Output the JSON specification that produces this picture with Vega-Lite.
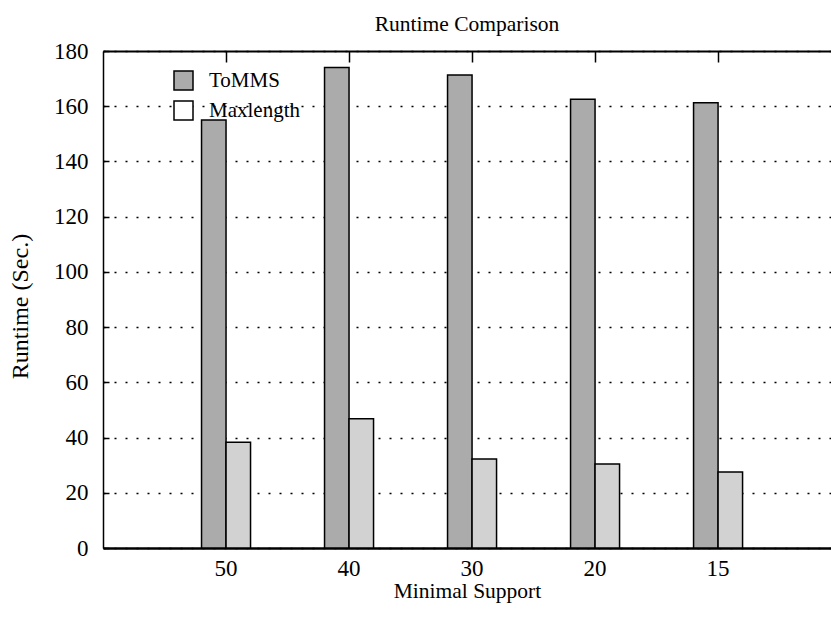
{
  "$schema": "https://vega.github.io/schema/vega-lite/v6.json",
  "width": 728,
  "height": 497,
  "autosize": {"type": "none"},
  "padding": {"left": 103, "top": 51, "right": 0, "bottom": 71},
  "background": "white",
  "title": {
    "text": "Runtime Comparison",
    "font": "Liberation Serif",
    "fontSize": 21.5,
    "fontWeight": "normal",
    "color": "black",
    "anchor": "middle",
    "baseline": "alphabetic",
    "offset": 21,
    "dy": 33
  },
  "config": {
    "view": {"stroke": null},
    "font": "Liberation Serif",
    "bar": {"stroke": "black", "strokeWidth": 1.5}
  },
  "data": {
    "values": [
      {"support": 50, "method": "ToMMS", "runtime": 155},
      {"support": 50, "method": "Maxlength", "runtime": 38.3},
      {"support": 40, "method": "ToMMS", "runtime": 174},
      {"support": 40, "method": "Maxlength", "runtime": 46.8},
      {"support": 30, "method": "ToMMS", "runtime": 171.3},
      {"support": 30, "method": "Maxlength", "runtime": 32.2},
      {"support": 20, "method": "ToMMS", "runtime": 162.5},
      {"support": 20, "method": "Maxlength", "runtime": 30.4},
      {"support": 15, "method": "ToMMS", "runtime": 161.3},
      {"support": 15, "method": "Maxlength", "runtime": 27.5}
    ]
  },
  "encoding": {
    "xOffset": {
      "field": "method",
      "type": "nominal",
      "scale": {"domain": ["ToMMS", "Maxlength"], "paddingInner": 0, "paddingOuter": 0}
    },
    "y": {
      "field": "runtime",
      "type": "quantitative",
      "scale": {"domain": [0, 180], "nice": false},
      "axis": {
        "orient": "left",
        "values": [0, 20, 40, 60, 80, 100, 120, 140, 160, 180],
        "domain": true,
        "domainColor": "black",
        "domainWidth": 1.5,
        "ticks": true,
        "tickSize": -6,
        "tickColor": "black",
        "tickWidth": 1.5,
        "labelFont": "Liberation Serif",
        "labelFontSize": 23,
        "labelColor": "black",
        "labelPadding": 21,
        "grid": true,
        "gridColor": "black",
        "gridDash": [2, 9],
        "gridWidth": 1.5,
        "title": "Runtime (Sec.)",
        "titleFont": "Liberation Serif",
        "titleFontSize": 24,
        "titleFontWeight": "normal",
        "titleColor": "black",
        "titleAngle": -90,
        "titleAlign": "center",
        "titleBaseline": "middle",
        "titleX": -83,
        "titleY": 255
      }
    }
  },
  "layer": [
    {
      "transform": [{"filter": "datum.method === 'ToMMS'"}],
      "mark": {"type": "bar", "stroke": "black", "strokeWidth": 1.5},
      "encoding": {
        "x": {
          "field": "support",
          "type": "nominal",
          "sort": [50, 40, 30, 20, 15],
          "scale": {"paddingInner": 0.6016, "paddingOuter": 0.76, "align": 0.527},
          "axis": {
            "orient": "bottom",
            "domain": true,
            "domainColor": "black",
            "domainWidth": 2.5,
            "ticks": false,
            "labelAngle": 0,
            "labelFont": "Liberation Serif",
            "labelFontSize": 23,
            "labelColor": "black",
            "labelPadding": 9,
            "grid": false,
            "title": "Minimal Support",
            "titleFont": "Liberation Serif",
            "titleFontSize": 21.5,
            "titleFontWeight": "normal",
            "titleColor": "black",
            "titleBaseline": "alphabetic",
            "titleY": 49
          }
        },
        "fill": {
          "field": "method",
          "type": "nominal",
          "scale": {"domain": ["ToMMS", "Maxlength"], "range": ["#ababab", "#ffffff"]},
          "legend": {
            "orient": "none",
            "legendX": 70,
            "legendY": 19,
            "padding": 0,
            "direction": "vertical",
            "title": null,
            "symbolType": "square",
            "symbolSize": 361,
            "symbolStrokeColor": "black",
            "symbolStrokeWidth": 1.5,
            "symbolOpacity": 1,
            "labelFont": "Liberation Serif",
            "labelFontSize": 21,
            "labelColor": "black",
            "labelOffset": 15,
            "rowPadding": 5
          }
        }
      }
    },
    {
      "transform": [{"filter": "datum.method === 'Maxlength'"}],
      "mark": {"type": "bar", "fill": "#d2d2d2", "stroke": "black", "strokeWidth": 1.5},
      "encoding": {
        "x": {
          "field": "support",
          "type": "nominal",
          "sort": [50, 40, 30, 20, 15],
          "scale": {"paddingInner": 0.6016, "paddingOuter": 0.76, "align": 0.527},
          "axis": {
            "orient": "top",
            "domain": true,
            "domainColor": "black",
            "domainWidth": 2,
            "ticks": true,
            "tickSize": -11,
            "tickColor": "black",
            "tickWidth": 1.5,
            "labels": false,
            "grid": false,
            "title": null
          }
        }
      }
    }
  ],
  "resolve": {"axis": {"x": "independent"}}
}
